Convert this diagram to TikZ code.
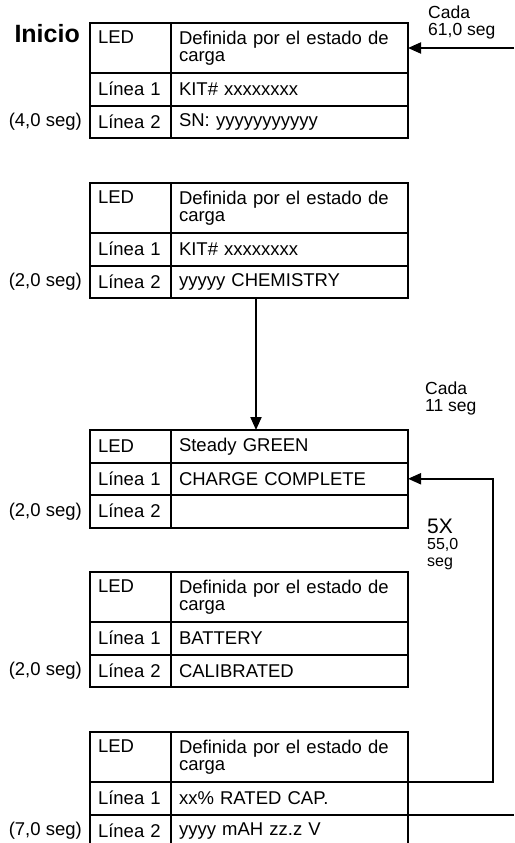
\documentclass[tikz,border=0pt]{standalone}
\usepackage{fontspec}
\setmainfont{Liberation Sans}
\usetikzlibrary{arrows.meta,positioning}

\begin{document}
\begin{tikzpicture}[
  x=1pt,y=-1pt,
  celda/.style={draw,line width=2pt,rectangle,outer sep=0pt,inner xsep=8pt,inner ysep=2pt,
    align=left,font=\fontsize{18.5}{17}\selectfont,minimum height=32.5pt},
  colA/.style={celda,text width=65pt,minimum width=81pt},
  colB/.style={celda,text width=221pt,minimum width=237pt},
  doble/.style={minimum height=50pt},
  tiempo/.style={font=\fontsize{18.5}{17}\selectfont,inner sep=0pt},
  nota/.style={font=\fontsize{17.5}{16.5}\selectfont,align=left,inner sep=0pt},
  flecha/.style={line width=2pt,-{Triangle[length=13pt,width=11pt]}},
  linea/.style={line width=2pt}
]
  \useasboundingbox (0,0) rectangle (514,843);

  % Pantalla 1 (inicio)
  \node[colA,doble,anchor=north west] (t1leda) at (90,23) {LED\\\strut};
  \node[colB,doble,right=0pt of t1leda] (t1ledb) {Definida por el estado de\\carga};
  \node[colA,below=0pt of t1leda] (t1l1a) {Línea 1};
  \node[colB,right=0pt of t1l1a] (t1l1b) {KIT\# xxxxxxxx};
  \node[colA,below=0pt of t1l1a] (t1l2a) {Línea 2};
  \node[colB,right=0pt of t1l2a] (t1l2b) {SN: yyyyyyyyyyy};
  \node[font=\fontsize{25}{25}\selectfont\bfseries,anchor=base east,inner sep=0pt] (inicio)
    at ([shift={(-10pt,-20pt)}]t1leda.north west) {Inicio};
  \node[tiempo,left=8pt of t1l2a] (seg1) {(4,0 seg)};

  % Pantalla 2
  \node[colA,doble,anchor=north west] (t2leda) at (90,183) {LED\\\strut};
  \node[colB,doble,right=0pt of t2leda] (t2ledb) {Definida por el estado de\\carga};
  \node[colA,below=0pt of t2leda] (t2l1a) {Línea 1};
  \node[colB,right=0pt of t2l1a] (t2l1b) {KIT\# xxxxxxxx};
  \node[colA,below=0pt of t2l1a] (t2l2a) {Línea 2};
  \node[colB,right=0pt of t2l2a] (t2l2b) {yyyyy CHEMISTRY};
  \node[tiempo,left=8pt of t2l2a] (seg2) {(2,0 seg)};

  % Pantalla 3
  \node[colA,anchor=north west] (t3leda) at (90,430) {LED};
  \node[colB,right=0pt of t3leda] (t3ledb) {Steady GREEN};
  \node[colA,below=0pt of t3leda] (t3l1a) {Línea 1};
  \node[colB,right=0pt of t3l1a] (t3l1b) {CHARGE COMPLETE};
  \node[colA,below=0pt of t3l1a] (t3l2a) {Línea 2};
  \node[colB,right=0pt of t3l2a] (t3l2b) {};
  \node[tiempo,left=8pt of t3l2a] (seg3) {(2,0 seg)};

  % Pantalla 4
  \node[colA,doble,anchor=north west] (t4leda) at (90,572) {LED\\\strut};
  \node[colB,doble,right=0pt of t4leda] (t4ledb) {Definida por el estado de\\carga};
  \node[colA,below=0pt of t4leda] (t4l1a) {Línea 1};
  \node[colB,right=0pt of t4l1a] (t4l1b) {BATTERY};
  \node[colA,below=0pt of t4l1a] (t4l2a) {Línea 2};
  \node[colB,right=0pt of t4l2a] (t4l2b) {CALIBRATED};
  \node[tiempo,left=8pt of t4l2a] (seg4) {(2,0 seg)};

  % Pantalla 5
  \node[colA,doble,anchor=north west] (t5leda) at (90,732) {LED\\\strut};
  \node[colB,doble,right=0pt of t5leda] (t5ledb) {Definida por el estado de\\carga};
  \node[colA,below=0pt of t5leda] (t5l1a) {Línea 1};
  \node[colB,right=0pt of t5l1a] (t5l1b) {xx\% RATED CAP.};
  \node[colA,below=0pt of t5l1a] (t5l2a) {Línea 2};
  \node[colB,right=0pt of t5l2a] (t5l2b) {yyyy mAH zz.z V};
  \node[tiempo,left=8pt of t5l2a] (seg5) {(7,0 seg)};

  % notas de repeticion
  \node[nota,anchor=north west] (cada1) at (428,6) {Cada\\61,0 seg};
  \node[nota,anchor=north west] (cada2) at (425,382) {Cada\\11 seg};
  \node[font=\fontsize{21}{21}\selectfont,anchor=base west,inner sep=0pt] (veces) at (427,533) {5X};
  \node[font=\fontsize{16}{17}\selectfont,align=left,anchor=north west,inner sep=0pt] (dur)
    at (427,538) {55,0\\seg};

  % conectores
  \coordinate (entrada) at (514,48);
  \coordinate (salida) at (514,814.5);
  \draw[flecha] (entrada) -- (t1ledb.east);
  \draw[flecha] ([xshift=85pt]t2l2b.south west) -- ([xshift=85pt]t3ledb.north west);
  \draw[flecha] (t5ledb.south east) -- ++(85pt,0) |- (t3l1b.east);
  \draw[linea] (t5l1b.south east) -- (salida);
\end{tikzpicture}
\end{document}
